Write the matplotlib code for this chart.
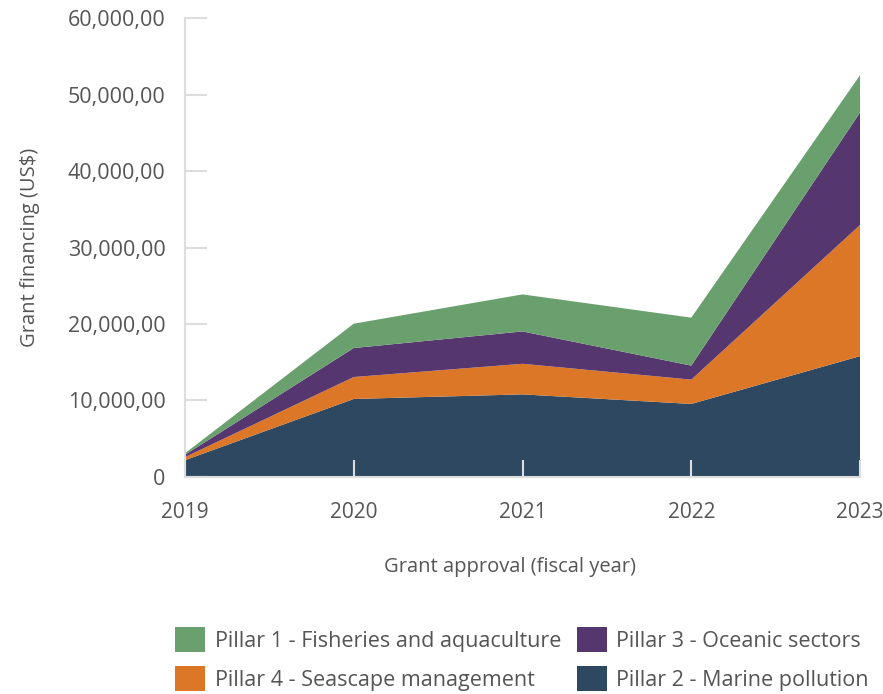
import numpy as np
import matplotlib
matplotlib.use("Agg")
import matplotlib.pyplot as plt
from matplotlib.patches import Patch
from matplotlib.ticker import FuncFormatter

plt.rcParams.update({
    "font.family": ["Open Sans", "DejaVu Sans"],
    "font.weight": "normal",
    "text.color": "#555555",
    "axes.labelcolor": "#555555",
})

years = [2019, 2020, 2021, 2022, 2023]

# grant financing per pillar (US$), stacked bottom -> top
pillar2 = [2200, 10200, 10800, 9550, 15800]    # Marine pollution
pillar4 = [400, 2870, 4000, 3180, 17150]       # Seascape management
pillar3 = [300, 3790, 4230, 1830, 14700]       # Oceanic sectors
pillar1 = [200, 3180, 4840, 6270, 4880]        # Fisheries and aquaculture

COLORS = {
    "p1": "#6a9f6e",
    "p3": "#55366f",
    "p4": "#dd7728",
    "p2": "#2d4860",
}
LABELS = {
    "p1": "Pillar 1 - Fisheries and aquaculture",
    "p3": "Pillar 3 - Oceanic sectors",
    "p4": "Pillar 4 - Seascape management",
    "p2": "Pillar 2 - Marine pollution",
}

fig = plt.figure(figsize=(8.83, 6.94), dpi=100)
ax = fig.add_axes([0.2095, 0.3127, 0.7645, 0.6613])

ax.stackplot(years, pillar2, pillar4, pillar3, pillar1,
             colors=[COLORS["p2"], COLORS["p4"], COLORS["p3"], COLORS["p1"]],
             linewidth=0)

ax.set_xlim(2019, 2023)
ax.set_ylim(0, 60000)
ax.set_xticks(years)
ax.set_yticks(np.arange(0, 60001, 10000))
ax.yaxis.set_major_formatter(FuncFormatter(
    lambda v, p: "0" if v == 0 else f"{v:,.0f},00"))

for s in ["top", "right"]:
    ax.spines[s].set_visible(False)
for s in ["left", "bottom"]:
    ax.spines[s].set_color("#dddddd")
    ax.spines[s].set_linewidth(1.5)

ax.tick_params(axis="y", direction="in", length=16, width=1.5, pad=14,
               labelsize=15.5, color="#dddddd", labelcolor="#555555")
ax.tick_params(axis="x", direction="in", length=12, width=1.5, pad=18,
               labelsize=15, color="#dddddd", labelcolor="#555555")

ax.set_ylabel("Grant financing (US$)", fontsize=14.5, labelpad=20)
ax.set_xlabel("Grant approval (fiscal year)", fontsize=14.5, labelpad=30)
ax.xaxis.set_label_coords(0.482, -0.175)

order = ["p1", "p4", "p3", "p2"]
handles = [Patch(facecolor=COLORS[k], edgecolor="none") for k in order]
fig.legend(handles, [LABELS[k] for k in order], ncol=2,
           loc="lower right", bbox_to_anchor=(1.006, -0.024), frameon=False,
           fontsize=15.5, handlelength=1.4, handleheight=1.4,
           handletextpad=0.45, columnspacing=0.7, labelspacing=0.68)

fig.savefig("out.png", dpi=100, facecolor="white")
